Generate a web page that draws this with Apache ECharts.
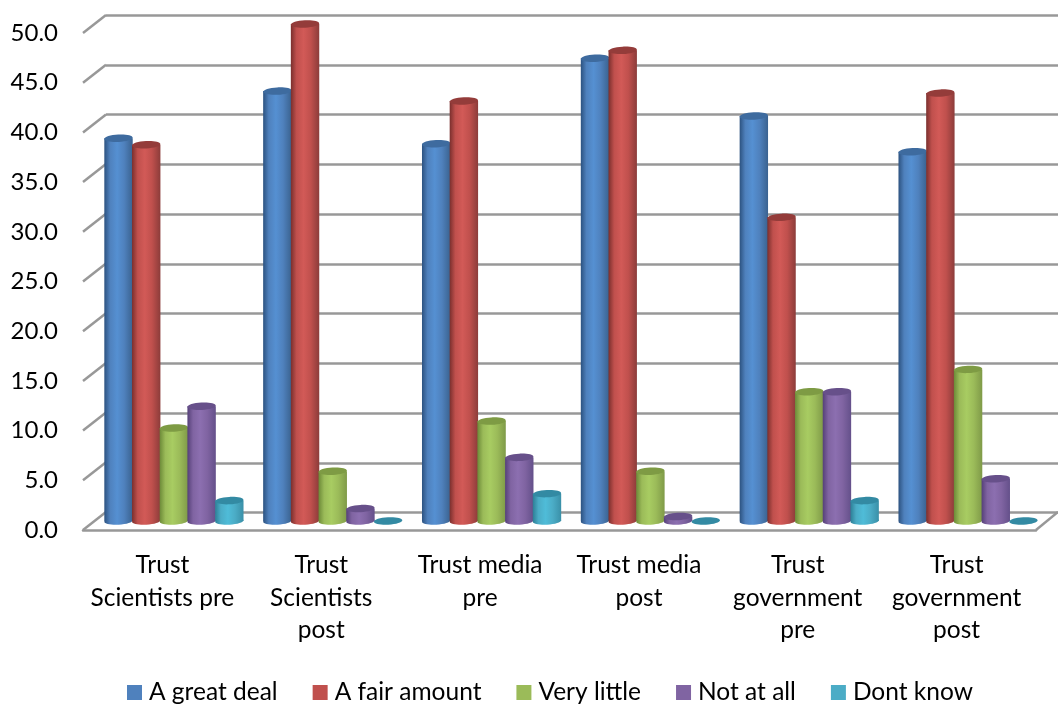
<!DOCTYPE html>
<html><head><meta charset="utf-8">
<style>html,body{margin:0;padding:0;background:#fff}#c{width:1058px;height:704px}</style>
<script src="https://cdn.jsdelivr.net/npm/echarts@6/dist/echarts.min.js"></script>
</head><body><div id="c"></div>
<script>
const categories = ["Trust\nScientists pre","Trust\nScientists\npost","Trust media\npre","Trust media\npost","Trust\ngovernment\npre","Trust\ngovernment\npost"];
const seriesNames = ["A great deal","A fair amount","Very little","Not at all","Dont know"];
const greatDeal = [38.5,43.25,37.95,46.55,40.75,37.15];
const fairAmount = [37.85,50.0,42.25,47.35,30.55,43.05];
const veryLittle = [9.35,5.0,10.05,5.0,13.0,15.25];
const notAtAll = [11.55,1.25,6.4,0.45,13.0,4.25];
const dontKnow = [2.05,0.0,2.75,0.0,2.05,0.0];
const seriesValues = [greatDeal,fairAmount,veryLittle,notAtAll,dontKnow];
const yTicks = [0,5,10,15,20,25,30,35,40,45,50];
const colors = ["#4F81BD","#C0504D","#9BBB59","#8064A2","#4BACC6"];
const sideDark = ["#2c5280","#7a2f2d","#6c8a38","#554078","#2c7f96"];
const sideRight = ["#3a628f","#8c3c3a","#7f9a48","#64508a","#3a90a8"];
const light = ["#5590d2","#d25a57","#a8cc62","#8c6fb0","#4fbcd8"];
const topCol = ["#3e6b9f","#943c3a","#7e9b44","#67508a","#338aa3"];
const gridColor = "#989898";

const depth = {x:23, y:-18};
const mid = {x:11.5, y:-9};
const step = 27.7, rx = 14.2, ry = 3.7, tilt = 0.05;

function bodyGrad(s){
  return {type:'linear',x:0,y:0,x2:1,y2:0,colorStops:[
    {offset:0,color:sideDark[s]},{offset:0.2,color:colors[s]},
    {offset:0.45,color:light[s]},{offset:0.7,color:colors[s]},{offset:1,color:sideRight[s]}]};
}
function cylinder(s){
  return function(params, api){
    const p = api.coord([api.value(0), api.value(1)]);
    const b = api.coord([api.value(0), 0]);
    const cx = p[0] + mid.x + (s-2)*step;
    const yTop = p[1] + mid.y, yBot = b[1] + mid.y;
    const kids = [];
    if (yBot - yTop > 0.5) {
      kids.push({type:'ellipse',shape:{cx:cx,cy:yBot,rx:rx,ry:ry},style:{fill:bodyGrad(s)},rotation:tilt,originX:cx,originY:yBot});
      kids.push({type:'rect',shape:{x:cx-rx,y:yTop,width:rx*2,height:yBot-yTop},style:{fill:bodyGrad(s)}});
    }
    kids.push({type:'ellipse',shape:{cx:cx,cy:yTop,rx:rx,ry:ry},style:{fill:topCol[s]},rotation:tilt,originX:cx,originY:yTop});
    return {type:'group',children:kids};
  };
}
function wall(params, api){
  const v = api.value(1);
  const p = api.coord([0,v]);
  const x0 = params.coordSys.x;
  const lineStyle = {stroke:gridColor,lineWidth:2.5,fill:null};
  const kids = [{type:'line',shape:{x1:x0,y1:p[1],x2:x0+depth.x,y2:p[1]+depth.y},style:lineStyle}];
  if (v === 0) {
    const xr = x0 + params.coordSys.width;
    kids.push({type:'line',shape:{x1:xr,y1:p[1],x2:xr+depth.x-1,y2:p[1]+depth.y},style:lineStyle});
  }
  return {type:'group',children:kids};
}
const font = 'Lato, Carlito, sans-serif';
const chart = echarts.init(document.getElementById('c'),null,{renderer:'canvas'});
chart.setOption({
  animation:false,
  backgroundColor:'#fff',
  color:colors,
  legend:{
    data:seriesNames, left:122, top:675, itemWidth:15, itemHeight:15, itemGap:35,
    icon:'rect', textStyle:{fontFamily:font,fontSize:24.5,color:'#000',padding:[0,0,0,2]}
  },
  grid:[
    {left:83,right:22,top:33,bottom:174},
    {left:106,right:0,top:15,bottom:191.5}
  ],
  xAxis:[
    {type:'category',gridIndex:0,data:categories,boundaryGap:true,
      axisTick:{show:false},axisLine:{show:true,lineStyle:{color:gridColor,width:2.5}},
      axisLabel:{interval:0,fontFamily:font,fontSize:24.5,color:'#000',lineHeight:32.5,margin:19,verticalAlign:'top'}},
    {type:'value',gridIndex:1,min:0,max:1,show:false}
  ],
  yAxis:[
    {type:'value',gridIndex:0,min:0,max:50,interval:5,
      axisLine:{show:false},axisTick:{show:false},splitLine:{show:false},
      axisLabel:{fontFamily:font,fontSize:24,color:'#000',margin:25,formatter:v=>v.toFixed(1)}},
    {type:'value',gridIndex:1,min:0,max:50,interval:5,
      axisLine:{show:false},axisTick:{show:false},axisLabel:{show:false},
      splitLine:{show:true,lineStyle:{color:gridColor,width:2.5}}}
  ],
  series:[
    {type:'custom',name:'walls',xAxisIndex:0,yAxisIndex:0,z:1,silent:true,clip:false,
      renderItem:wall,data:yTicks.map(v=>[0,v])}
  ].concat(seriesNames.map((n,s)=>({
    type:'custom',name:n,xAxisIndex:0,yAxisIndex:0,z:3+s,clip:false,
    itemStyle:{color:colors[s]},
    renderItem:cylinder(s),
    encode:{x:0,y:1},
    data:seriesValues[s].map((v,i)=>[i,v])
  })))
});
</script></body></html>
